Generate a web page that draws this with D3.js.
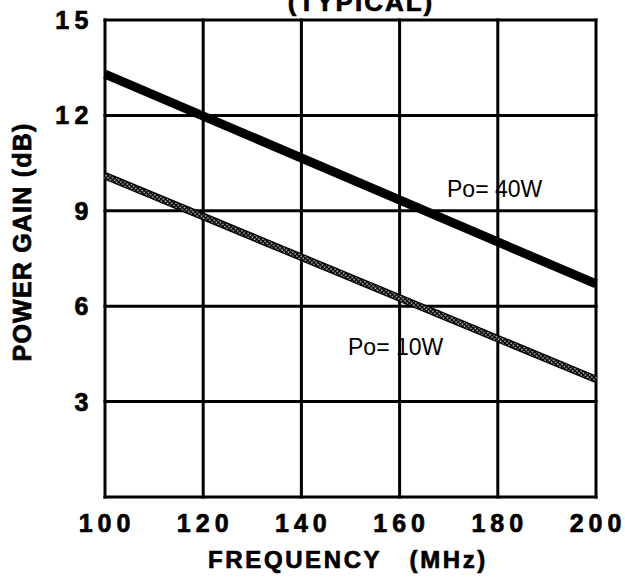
<!DOCTYPE html>
<html lang="en">
<head>
<meta charset="utf-8">
<script src="https://cdn.jsdelivr.net/npm/d3@7"></script>
<style>
body { margin: 0; background: #fff; }
svg text { font-family: "Liberation Sans", Arial, sans-serif; fill: #000; }
svg text.heavy { font-weight: bold; stroke: #000; stroke-width: 0.7px; }
</style>
</head>
<body>
<script>
// frequency (MHz) vs power gain (dB)
var freq = [100, 200];
var gain40 = [13.3, 6.7];
var gain10 = [10.1, 3.7];
var xTicks = [100, 120, 140, 160, 180, 200];
var yTicks = [3, 6, 9, 12, 15];

var width = 625, height = 578;
var plotLeft = 105, plotRight = 596, plotTop = 20, plotBottom = 497;

var x = d3.scaleLinear().domain([100, 200]).range([plotLeft, plotRight]);
var y = d3.scaleLinear().domain([0, 15]).range([plotBottom, plotTop]);

var svg = d3.select("body").append("svg")
    .attr("width", width)
    .attr("height", height);

// checkered fill for the 10W curve
var defs = svg.append("defs");
var pat = defs.append("pattern")
    .attr("id", "checker")
    .attr("width", 3).attr("height", 3)
    .attr("patternUnits", "userSpaceOnUse")
    .attr("patternTransform", "rotate(45)");
pat.append("rect").attr("width", 3).attr("height", 3).attr("fill", "#000");
pat.append("rect").attr("x", 0.5).attr("y", 0.5).attr("width", 1.4).attr("height", 1.4).attr("fill", "#fff");

// grid
svg.append("g").selectAll("line")
    .data(xTicks)
    .enter().append("line")
    .attr("x1", function(d) { return x(d); })
    .attr("x2", function(d) { return x(d); })
    .attr("y1", plotTop - 1.5).attr("y2", plotBottom + 1.5)
    .attr("stroke", "#000").attr("stroke-width", 3);

svg.append("g").selectAll("line")
    .data([0].concat(yTicks))
    .enter().append("line")
    .attr("y1", function(d) { return y(d); })
    .attr("y2", function(d) { return y(d); })
    .attr("x1", plotLeft - 1.5).attr("x2", plotRight + 1.5)
    .attr("stroke", "#000").attr("stroke-width", 3);

var line = d3.line()
    .x(function(d) { return x(d[0]); })
    .y(function(d) { return y(d[1]); });

// 40W
svg.append("path")
    .attr("d", line(d3.zip(freq, gain40)))
    .attr("stroke", "#000").attr("stroke-width", 9).attr("fill", "none");

// 10W
svg.append("path")
    .attr("d", line(d3.zip(freq, gain10)))
    .attr("stroke", "#000").attr("stroke-width", 7.5).attr("fill", "none");
svg.append("path")
    .attr("d", line(d3.zip(freq, gain10)))
    .attr("stroke", "url(#checker)").attr("stroke-width", 5).attr("fill", "none");

// tick labels
svg.append("g").selectAll("text")
    .data(xTicks)
    .enter().append("text")
    .attr("class", "heavy")
    .attr("x", function(d) { return x(d) + 2; })
    .attr("y", 532)
    .attr("text-anchor", "middle")
    .attr("font-size", 25)
    .attr("letter-spacing", 5)
    .text(function(d) { return d; });

svg.append("g").selectAll("text")
    .data(yTicks)
    .enter().append("text")
    .attr("class", "heavy")
    .attr("x", 94)
    .attr("y", function(d) { return y(d) + 9; })
    .attr("text-anchor", "end")
    .attr("font-size", 25)
    .attr("letter-spacing", 5.5)
    .text(function(d) { return d; });

// labels
svg.append("text")
    .attr("x", 447).attr("y", 197)
    .attr("font-size", 23)
    .text("Po= 40W");

svg.append("text")
    .attr("x", 348).attr("y", 355)
    .attr("font-size", 23)
    .text("Po= 10W");

svg.append("text")
    .attr("class", "heavy")
    .attr("x", 361).attr("y", 11)
    .attr("text-anchor", "middle")
    .attr("font-size", 26)
    .attr("letter-spacing", 2)
    .text("(TYPICAL)");

svg.append("text")
    .attr("class", "heavy")
    .attr("x", 348).attr("y", 568)
    .attr("text-anchor", "middle")
    .attr("font-size", 24)
    .attr("letter-spacing", 2.6)
    .attr("xml:space", "preserve")
    .text("FREQUENCY   (MHz)");

svg.append("text")
    .attr("class", "heavy")
    .attr("transform", "translate(31,242) rotate(-90)")
    .attr("text-anchor", "middle")
    .attr("font-size", 25)
    .attr("letter-spacing", 1.2)
    .text("POWER GAIN (dB)");
</script>
</body>
</html>
